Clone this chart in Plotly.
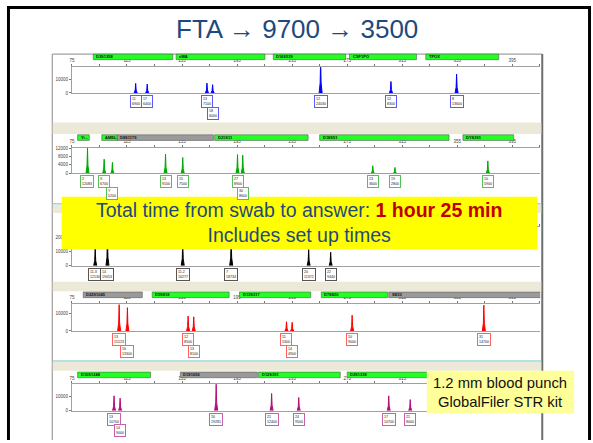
import plotly.graph_objects as go

# ---------------- DATA ----------------
BP_TICKS = [75, 115, 155, 195, 235, 275, 315, 355, 395]

# Panel 1 (blue dye)
P1_LOCI = ["D3S1358", "vWA", "D16S539", "CSF1PO", "TPOX"]
P1_LOCUS_START = [90.5, 150.7, 221.3, 276.7, 332.1]
P1_LOCUS_END = [148.3, 215.2, 273.8, 325.4, 385.1]
P1_ALLELES = ["11", "17", "13", "18", "12", "12", "8"]
P1_SIZES = [121.3, 129.7, 173.1, 177.2, 255.7, 306.8, 354.5]
P1_HEIGHTS = [6900, 6400, 7100, 6000, 24030, 8300, 13600]

# Panel 2 (green dye)
P2_LOCI = ["Yi...", "AMEL", "D8S1179", "D21S11", "D18S51", "DYS391"]
P2_LOCUS_START = [79.1, 96.7, 108.0, 178.7, 255.0, 359.1]
P2_LOCUS_END = [87.6, 108.0, 177.9, 246.6, 349.0, 396.0]
P2_ALLELES = ["2", "X", "Y", "13", "15", "27", "30", "13", "19", "10"]
P2_SIZES = [86.3, 98.4, 104.4, 143.0, 155.5, 195.3, 199.1, 293.6, 309.7, 377.2]
P2_HEIGHTS = [12083, 6700, 5200, 9100, 7500, 8900, 8600, 3600, 2800, 5900]

# Panel 3 (yellow dye, drawn black) - locus bar row hidden behind the banner
P3_LOCI = ["D2S441", "D19S433", "TH01", "FGA"]
P3_LOCUS_START = [79.0, 125.0, 180.0, 228.0]
P3_LOCUS_END = [120.0, 175.0, 222.0, 330.0]
P3_ALLELES = ["11.3", "14", "11.2", "7", "20", "22"]
P3_SIZES = [91.9, 100.8, 155.5, 190.7, 247.0, 263.0]
P3_HEIGHTS = [12130, 19053, 16277, 18734, 11372, 9440]

# Panel 4 (red dye)
P4_LOCI = ["D22S1045", "D5S818", "D13S317", "D7S820", "SE33"]
P4_LOCUS_START = [83.2, 133.3, 196.7, 256.2, 305.2]
P4_LOCUS_END = [126.1, 189.2, 248.5, 304.4, 416.5]
P4_ALLELES = ["13", "16", "12", "13", "11", "14", "10", "31"]
P4_SIZES = [109.3, 115.3, 159.4, 163.5, 230.9, 235.0, 278.6, 374.3]
P4_HEIGHTS = [15123, 13300, 8500, 8100, 5300, 4900, 9000, 14700]

# Panel 5 (purple dye)
P5_LOCI = ["D10S1248", "D1S1656", "D12S391", "D2S1338"]
P5_LOCUS_START = [79.1, 153.8, 210.5, 275.0]
P5_LOCUS_END = [132.1, 209.7, 270.0, 357.4]
P5_ALLELES = ["13", "14", "16", "21", "24", "17", "21"]
P5_SIZES = [105.6, 110.0, 179.8, 220.1, 239.8, 305.2, 320.8]
P5_HEIGHTS = [10700, 9000, 19281, 12400, 9500, 10700, 8000]

# ---------------- LAYOUT / STYLE ----------------
W, H = 593, 443
def px(x): return x / W
def py(y): return 1 - y / H

X0, X1 = 69.3, 540.0
BP_MIN, BP_MAX = 75, 415.3
FONT = "Liberation Sans, Arial, sans-serif"
GREEN_BAR, GRAY_BAR = "#22FF22", "#9A9A9A"

panels = [
    dict(loci=P1_LOCI, ls=P1_LOCUS_START, le=P1_LOCUS_END, al=P1_ALLELES, sz=P1_SIZES, ht=P1_HEIGHTS,
         gray=[], bar=(52.7, 58.3), top=66.0, base=92.0, ymax=18600, yt=[0, 10000],
         color="#0000FF", box="#5A5AFF", names=True),
    dict(loci=P2_LOCI, ls=P2_LOCUS_START, le=P2_LOCUS_END, al=P2_ALLELES, sz=P2_SIZES, ht=P2_HEIGHTS,
         gray=["D8S1179"], bar=(134.3, 140.0), top=147.7, base=173.3, ymax=12000, yt=[0, 4000, 8000, 12000],
         color="#00A800", box="#55C055", names=True),
    dict(loci=P3_LOCI, ls=P3_LOCUS_START, le=P3_LOCUS_END, al=P3_ALLELES, sz=P3_SIZES, ht=P3_HEIGHTS,
         gray=[], bar=(214.0, 220.0), top=228.0, base=266.7, ymax=26900, yt=[0, 10000, 20000],
         color="#000000", box="#555555", names=False),
    dict(loci=P4_LOCI, ls=P4_LOCUS_START, le=P4_LOCUS_END, al=P4_ALLELES, sz=P4_SIZES, ht=P4_HEIGHTS,
         gray=["D22S1045", "SE33"], bar=(293.3, 299.0), top=305.7, base=332.7, ymax=15250, yt=[0, 10000],
         color="#FF0000", box="#FF6060", names=True),
    dict(loci=P5_LOCI, ls=P5_LOCUS_START, le=P5_LOCUS_END, al=P5_ALLELES, sz=P5_SIZES, ht=P5_HEIGHTS,
         gray=["D1S1656"], bar=(374.3, 380.0), top=386.7, base=413.3, ymax=19000, yt=[0, 10000],
         color="#B0107A", box="#C860A8", names=True),
]

fig = go.Figure()
shapes = []
annotations = []

# slide border
shapes.append(dict(type="rect", xref="paper", yref="paper", x0=px(4), x1=px(7), y0=py(443), y1=py(4),
                   fillcolor="black", line=dict(width=0), layer="below"))
shapes.append(dict(type="rect", xref="paper", yref="paper", x0=px(4), x1=px(591), y0=py(7), y1=py(4),
                   fillcolor="black", line=dict(width=0), layer="below"))
shapes.append(dict(type="rect", xref="paper", yref="paper", x0=px(588), x1=px(591), y0=py(443), y1=py(4),
                   fillcolor="black", line=dict(width=0), layer="below"))

# EPG window frame
shapes.append(dict(type="line", xref="paper", yref="paper", x0=px(49.5), x1=px(49.5), y0=py(443), y1=py(52.7),
                   line=dict(color="#8A8A8A", width=1), layer="below"))
shapes.append(dict(type="line", xref="paper", yref="paper", x0=px(49.5), x1=px(542), y0=py(52.7), y1=py(52.7),
                   line=dict(color="#8A8A8A", width=1), layer="below"))
shapes.append(dict(type="line", xref="paper", yref="paper", x0=px(542), x1=px(542), y0=py(443), y1=py(52.7),
                   line=dict(color="#6E6E6E", width=2), layer="below"))
for (a, b) in [(122.0, 133.5), (205.0, 213.5), (283.0, 292.5), (364.0, 373.0)]:
    shapes.append(dict(type="rect", xref="paper", yref="paper", x0=px(50), x1=px(541), y0=py(b), y1=py(a),
                       fillcolor="#ECE9D8", line=dict(width=0), layer="below"))
for yl in [204.0, 363.0]:
    shapes.append(dict(type="line", xref="paper", yref="paper", x0=px(50), x1=px(541), y0=py(yl), y1=py(yl),
                       line=dict(color="#9ED8DC", width=1.5), layer="below"))

layout_axes = {}
for i, p in enumerate(panels):
    n = i + 1
    xa = "xaxis" if n == 1 else f"xaxis{n}"
    ya = "yaxis" if n == 1 else f"yaxis{n}"
    xr = "x" if n == 1 else f"x{n}"
    yr = "y" if n == 1 else f"y{n}"

    # peaks
    xs, ys = [], []
    for s, h in zip(p["sz"], p["ht"]):
        xs += [s - 1.1, s - 0.35, s, s + 0.35, s + 1.1, None]
        ys += [0, h * 0.3, h, h * 0.3, 0, None]
    fig.add_trace(go.Scatter(x=xs, y=ys, xaxis=xr, yaxis=yr, mode="lines", fill="toself",
                             fillcolor=p["color"], line=dict(color=p["color"], width=1),
                             hoverinfo="skip", showlegend=False))

    tickvals = [BP_MIN + 20 * k for k in range(18)]
    ticktext = [str(v) if v in BP_TICKS else "" for v in tickvals]
    layout_axes[xa] = dict(domain=[px(X0), px(X1)], range=[BP_MIN, BP_MAX], anchor=yr, side="top",
                           showline=True, linecolor="#A0A0A0", linewidth=1, mirror=True,
                           ticks="outside", ticklen=2, tickcolor="#777777", tickwidth=1,
                           tickvals=tickvals, ticktext=ticktext, showgrid=False, zeroline=False,
                           tickfont=dict(size=4.5, color="#444444", family=FONT), fixedrange=True)
    layout_axes[ya] = dict(domain=[py(p["base"]), py(p["top"])], range=[0, p["ymax"]], anchor=xr,
                           showline=True, linecolor="#A0A0A0", linewidth=1,
                           ticks="outside", ticklen=2, tickcolor="#777777",
                           tickvals=p["yt"], ticktext=[str(v) for v in p["yt"]],
                           showgrid=False, zeroline=False,
                           tickfont=dict(size=4.5, color="#444444", family=FONT), fixedrange=True)

    # locus bars
    b0, b1 = p["bar"]
    for name, s, e in zip(p["loci"], p["ls"], p["le"]):
        col = GRAY_BAR if name in p["gray"] else GREEN_BAR
        shapes.append(dict(type="rect", xref=xr, yref="paper", x0=s, x1=e, y0=py(b1), y1=py(b0),
                           fillcolor=col, line=dict(color="#5A5A5A", width=0.6), layer="above"))
        if p["names"]:
            annotations.append(dict(x=s + 0.8, y=py((b0 + b1) / 2), xref=xr, yref="paper",
                                    text=f"<b>{name}</b>", showarrow=False, xanchor="left", yanchor="middle",
                                    font=dict(size=4, color="#111111", family=FONT)))

    # allele label boxes
    last_row0 = -999
    for a, s, h in zip(p["al"], p["sz"], p["ht"]):
        if s - last_row0 < 8:
            row = 1
        else:
            row = 0
            last_row0 = s
        ytop = p["base"] + 2 + row * 11.8
        annotations.append(dict(x=s, y=py(ytop), xref=xr, yref="paper", text=f"{a}<br>{h}",
                                showarrow=False, xanchor="center", yanchor="top", align="left",
                                bgcolor="white", bordercolor=p["box"], borderwidth=1, borderpad=1,
                                font=dict(size=3.6, color="#222222", family=FONT)))

# yellow banner
shapes.append(dict(type="rect", xref="paper", yref="paper", x0=px(59), x1=px(537), y0=py(250), y1=py(197),
                   fillcolor="#FFFF00", line=dict(width=0), layer="above"))
annotations.append(dict(x=px(298), y=py(223.5), xref="paper", yref="paper", showarrow=False,
                        text="Total time from swab to answer: <span style='color:#C00000'><b>1 hour 25 min</b></span>"
                             "<br>Includes set up times",
                        font=dict(size=19.5, color="#1F497D", family=FONT), xanchor="center", yanchor="middle"))

# light yellow note
shapes.append(dict(type="rect", xref="paper", yref="paper", x0=px(426), x1=px(574), y0=py(416), y1=py(373),
                   fillcolor="#FFFF99", line=dict(width=0), layer="above"))
annotations.append(dict(x=px(500), y=py(394.5), xref="paper", yref="paper", showarrow=False,
                        text="1.2 mm blood punch<br>GlobalFiler STR kit",
                        font=dict(size=14.8, color="#111111", family=FONT), xanchor="center", yanchor="middle"))

# title
annotations.append(dict(x=px(295), y=py(27), xref="paper", yref="paper", showarrow=False,
                        text="FTA \u2192 9700 \u2192 3500",
                        font=dict(size=26, color="#1F497D", family=FONT), xanchor="center", yanchor="middle"))

fig.update_layout(width=W, height=H, margin=dict(l=0, r=0, t=0, b=0), paper_bgcolor="white",
                  plot_bgcolor="white", shapes=shapes, annotations=annotations, showlegend=False,
                  **layout_axes)
fig.write_html("out.html", config=dict(displayModeBar=False),
               post_script="document.body.style.margin='0px';document.body.style.overflow='hidden';")
